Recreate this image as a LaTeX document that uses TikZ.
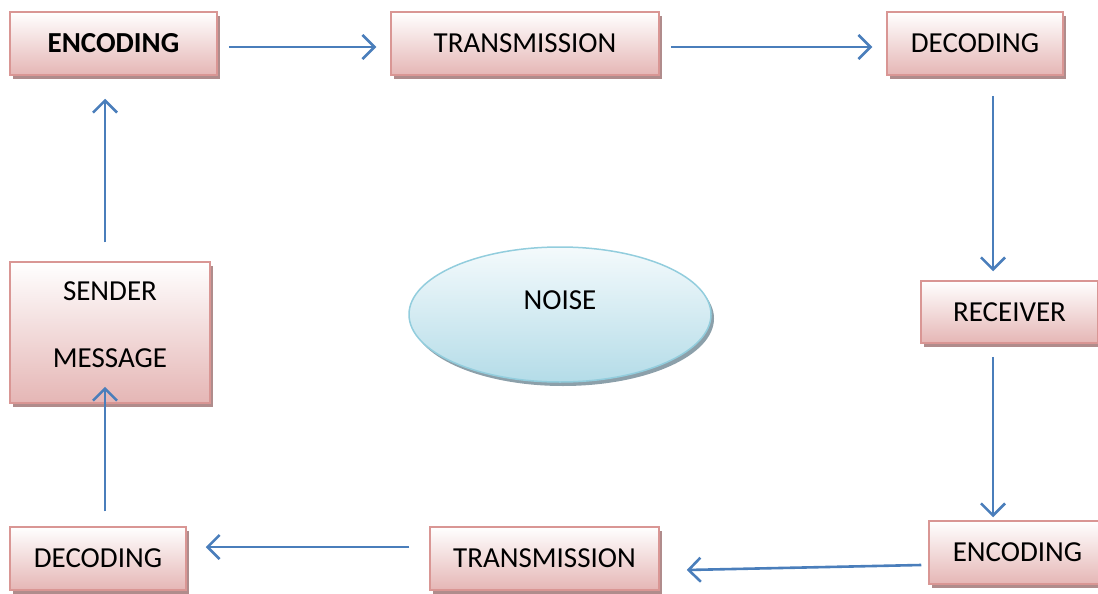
\documentclass[tikz,border=0pt]{standalone}
\usepackage{fontspec}
\setmainfont{Carlito}
\usetikzlibrary{arrows.meta,shadows,shapes.geometric,calc}
\definecolor{boxline}{RGB}{217,150,148}
\definecolor{boxlow}{RGB}{229,182,181}
\definecolor{boxshade}{RGB}{176,140,140}
\definecolor{ovline}{RGB}{146,205,221}
\definecolor{ovtop}{RGB}{244,250,252}
\definecolor{ovlow}{RGB}{180,220,232}
\definecolor{ovshade}{RGB}{140,160,170}
\definecolor{flow}{RGB}{74,126,187}
\begin{document}
\begin{tikzpicture}[x=1pt,y=-1pt,
  stage/.style={draw=boxline, line width=1.5pt, top color=white, bottom color=boxlow,
    general shadow={fill=boxshade, shadow xshift=3pt, shadow yshift=-4pt},
    minimum height=63pt, inner sep=0pt, font=\fontsize{29}{35}\selectfont},
  noisebox/.style={ellipse, draw=ovline, line width=1.5pt, top color=ovtop, bottom color=ovlow,
    general shadow={fill=ovshade, shadow xshift=3pt, shadow yshift=-4pt},
    minimum width=302pt, minimum height=135pt, inner sep=0pt},
  txt/.style={font=\fontsize{29}{35}\selectfont, inner sep=0pt},
  flowline/.style={draw=flow, line width=2.6pt, -{Straight Barb[length=12pt,width=24pt,line width=2.6pt]}}
]
\useasboundingbox (0,0) rectangle (1098,594);

% top row
\node[stage, minimum width=207pt] (enc1) at (113.5,43.5) {\bfseries ENCODING};
\node[stage, minimum width=268pt] (tr1) at (525,43.5) {TRANSMISSION};
\node[stage, minimum width=176pt] (dec1) at (975,43.5) {DECODING};

% right column
\node[stage, minimum width=177pt, minimum height=62pt] (rec) at (1009.5,312) {RECEIVER};
\node[stage, minimum width=177pt] (enc2) at (1017.5,552.5) {ENCODING};

% bottom row
\node[stage, minimum width=229pt] (tr2) at (544.5,558.5) {TRANSMISSION};
\node[stage, minimum width=176pt] (dec2) at (98,558.5) {DECODING};

% sender box
\node[stage, minimum width=200pt, minimum height=141pt] (snd) at (110,332.5) {};
\node[txt, align=center, font=\fontsize{29}{67}\selectfont] (sndtxt) at (110,324.5) {SENDER\\MESSAGE};

% noise
\node[noisebox] (noise) at (560,314.5) {};
\node[txt] (noisetxt) at (560,300) {NOISE};

% connectors
\draw[flowline] ($(enc1.east)+(11,3.5)$) -- ($(tr1.west)+(-14,3.5)$);
\draw[flowline] ($(tr1.east)+(11,3.5)$) -- ($(dec1.west)+(-14,3.5)$);
\draw[flowline] ($(dec1.south)+(18,20)$) -- ($(rec.north)+(-16.5,-9)$);
\draw[flowline] ($(rec.south)+(-16.5,13)$) -- ($(enc2.north)+(-24.5,-3)$);
\draw[flowline] ($(enc2.west)+(-7,12.5)$) -- ($(tr2.east)+(27,11.5)$);
\draw[flowline] ($(tr2.west)+(-20,-11.5)$) -- ($(dec2.east)+(19,-11.5)$);
\draw[flowline] ($(dec2.north)+(7,-15)$) -- ($(snd.south)+(-5,-17)$);
\draw[flowline] ($(snd.north)+(-5,-19)$) -- ($(enc1.south)+(-8.5,23)$);
\end{tikzpicture}
\end{document}
